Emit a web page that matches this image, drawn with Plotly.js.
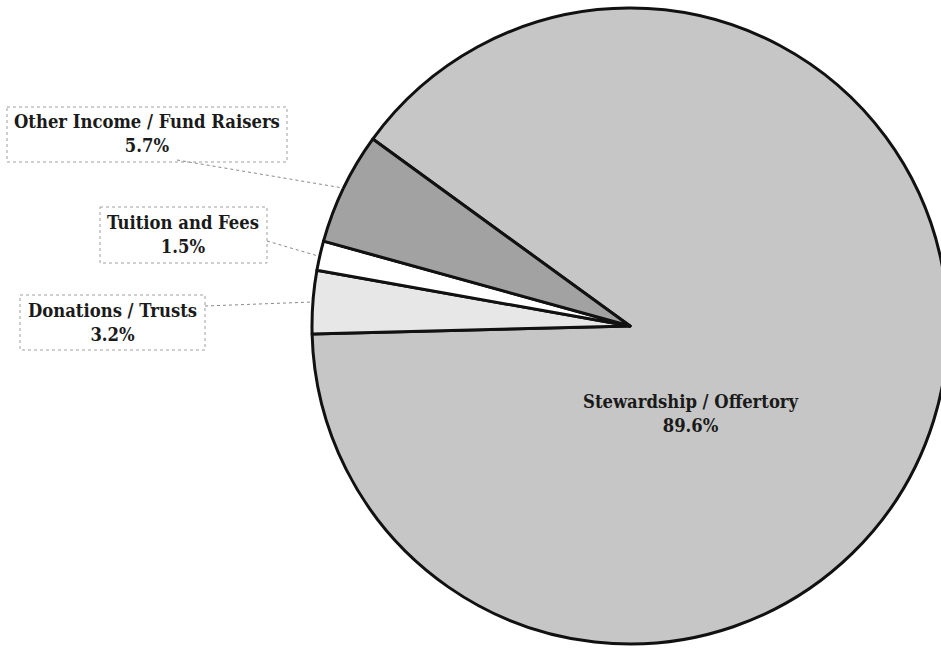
<!DOCTYPE html>
<html><head><meta charset="utf-8">
<script src="https://cdn.plot.ly/plotly-3.0.1.min.js"></script>
<style>html,body{margin:0;padding:0;overflow:hidden;background:#fff}#chart{width:948px;height:649px}</style>
</head><body><div id="chart"></div>
<script>
const categories = ["Stewardship / Offertory", "Donations / Trusts", "Tuition and Fees", "Other Income / Fund Raisers"];
const shares = [89.6, 3.2, 1.5, 5.7];
const sliceColors = ["#c6c6c6", "#e7e7e7", "#ffffff", "#a2a2a2"];

const W = 948, H = 649;
const px = x => x / W, py = y => 1 - y / H;
const FONT = {family: "DejaVu Serif Condensed, DejaVu Serif, serif", size: 18.3, color: "#1a1a1a", weight: 700};

// label positions (pixel centres), boxes and leader lines
const labelPos = [
  {x: 691, y: 413, box: null, line: null},
  {x: 112, y: 322, box: [20, 295, 205, 350], line: [205, 306, 313, 302]},
  {x: 183, y: 235, box: [100, 207, 267, 263], line: [267, 241, 318, 256]},
  {x: 147, y: 134, box: [7, 107, 287, 162], line: [177, 160, 343, 188]}
];

const annotations = categories.map((c, i) => ({
  xref: "paper", yref: "paper", x: px(labelPos[i].x), y: py(labelPos[i].y),
  xanchor: "center", yanchor: "middle", showarrow: false,
  text: "<b>" + c + "<br>" + shares[i].toFixed(1) + "%</b>",
  font: FONT, align: "center"
}));

const shapes = [];
labelPos.forEach(p => {
  if (p.line) shapes.push({type: "line", xref: "paper", yref: "paper",
    x0: px(p.line[0]), y0: py(p.line[1]), x1: px(p.line[2]), y1: py(p.line[3]),
    line: {color: "#8a8a8a", width: 1, dash: "dot"}});
  if (p.box) shapes.push({type: "rect", xref: "paper", yref: "paper",
    x0: px(p.box[0]), y0: py(p.box[1]), x1: px(p.box[2]), y1: py(p.box[3]),
    fillcolor: "rgba(255,255,255,0)", line: {color: "#a0a0a0", width: 1, dash: "dot"}});
});

const trace = {
  type: "pie", labels: categories, values: shares, sort: false,
  direction: "clockwise", rotation: -54,
  marker: {colors: sliceColors, line: {color: "#111", width: 3}},
  textinfo: "none", hoverinfo: "label+percent",
  domain: {x: [312 / W, 1], y: [5 / H, 641 / H]}
};

Plotly.newPlot("chart", [trace], {
  width: W, height: H, margin: {l: 0, r: 0, t: 0, b: 0},
  showlegend: false, paper_bgcolor: "#fff",
  annotations: annotations, shapes: shapes
}, {displayModeBar: false, staticPlot: true});
</script></body></html>
